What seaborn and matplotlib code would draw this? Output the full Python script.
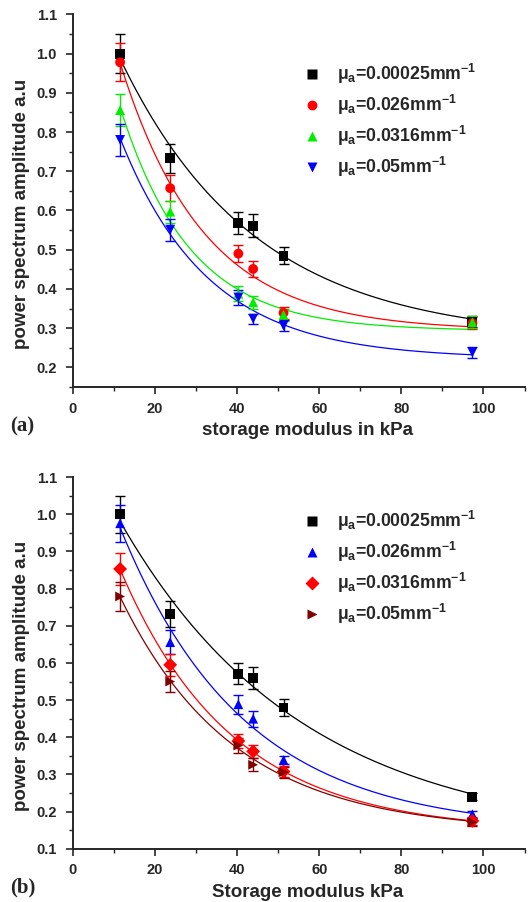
import numpy as np
import pandas as pd
import seaborn as sns
import matplotlib.pyplot as plt
from matplotlib.ticker import MultipleLocator

# storage modulus (kPa) of the six phantoms
modulus = [11.5, 23.7, 40.3, 43.9, 51.3, 97.3]

labels = [r'$\mu_a$=0.00025mm$^{-1}$', r'$\mu_a$=0.026mm$^{-1}$',
          r'$\mu_a$=0.0316mm$^{-1}$', r'$\mu_a$=0.05mm$^{-1}$']

# panel (a)
a_vals = [[1.0, 0.733, 0.569, 0.561, 0.485, 0.316],
          [0.978, 0.657, 0.49, 0.451, 0.339, 0.313],
          [0.856, 0.597, 0.388, 0.366, 0.334, 0.315],
          [0.78, 0.551, 0.378, 0.324, 0.306, 0.238]]
a_err = [[0.05, 0.037, 0.028, 0.029, 0.022, 0.014],
         [0.048, 0.033, 0.022, 0.02, 0.016, 0.015],
         [0.04, 0.028, 0.02, 0.016, 0.015, 0.015],
         [0.04, 0.028, 0.018, 0.013, 0.014, 0.013]]
a_colors = ['black', 'red', '#00ee00', 'blue']
a_markers = ['s', 'o', '^', 'v']

# panel (b)
b_vals = [[1.0, 0.732, 0.571, 0.56, 0.48, 0.24],
          [0.976, 0.656, 0.489, 0.45, 0.339, 0.193],
          [0.853, 0.595, 0.39, 0.362, 0.308, 0.175],
          [0.779, 0.55, 0.378, 0.326, 0.306, 0.172]]
b_err = [[0.05, 0.036, 0.028, 0.03, 0.024, 0.01],
         [0.05, 0.033, 0.025, 0.022, 0.012, 0.01],
         [0.042, 0.03, 0.02, 0.018, 0.015, 0.01],
         [0.04, 0.028, 0.02, 0.018, 0.015, 0.01]]
b_colors = ['black', 'blue', 'red', '#800000']
b_markers = ['s', '^', 'D', '>']

sns.set_style('ticks')
plt.rcParams['font.family'] = ['Liberation Sans', 'DejaVu Sans']
plt.rcParams['font.weight'] = 'bold'
plt.rcParams['mathtext.fontset'] = 'custom'
plt.rcParams['mathtext.rm'] = 'Liberation Sans:bold'
plt.rcParams['mathtext.it'] = 'Liberation Sans:bold'
plt.rcParams['mathtext.bf'] = 'Liberation Sans:bold'


def exp_fit(x, y):
  # y = y0 + A*exp(-x/t), grid over t, linear least squares for y0, A
  best = None
  for t in np.linspace(5, 120, 1151):
    M = np.column_stack([np.ones_like(x), np.exp(-x / t)])
    coef = np.linalg.lstsq(M, y, rcond=None)[0]
    sse = ((M @ coef - y) ** 2).sum()
    if best is None or sse < best[0]:
      best = (sse, coef[0], coef[1], t)
  return best[1:]


def panel(ax, vals, errs, colors, markers, xlabel, ylim, tag, leg_y):
  x = np.array(modulus)
  rows = []
  for lab, v in zip(labels, vals):
    for xi, yi in zip(modulus, v):
      rows.append({'modulus': xi, 'amp': yi, 'series': lab})
  df = pd.DataFrame(rows)

  for v, e, c in zip(vals, errs, colors):
    y0, A, t = exp_fit(x, np.array(v))
    xs = np.linspace(x.min(), x.max(), 200)
    ax.plot(xs, y0 + A * np.exp(-xs / t), color=c, lw=0.9, zorder=1)
    ax.errorbar(x, v, yerr=e, fmt='none', ecolor=c, elinewidth=1,
                capsize=3.3, capthick=1, zorder=2)

  sns.scatterplot(data=df, x='modulus', y='amp', hue='series', style='series',
                  palette=dict(zip(labels, colors)),
                  markers=dict(zip(labels, markers)),
                  s=50, edgecolor='none', zorder=3, ax=ax)

  ax.set_xlim(0, 110)
  ax.set_ylim(*ylim)
  ax.xaxis.set_major_locator(MultipleLocator(20))
  ax.xaxis.set_minor_locator(MultipleLocator(10))
  ax.yaxis.set_major_locator(MultipleLocator(0.1))
  ax.yaxis.set_minor_locator(MultipleLocator(0.05))
  ax.tick_params(which='major', length=5, width=1.2, labelsize=10.5)
  ax.tick_params(axis='y', which='major', pad=6.5)
  ax.tick_params(axis='x', which='major', pad=5.5)
  ax.tick_params(which='minor', length=3, width=1)
  ax.set_yticks(np.arange(round(ylim[0] + 0.049, 1), 1.101, 0.1))
  ax.yaxis.set_major_formatter(plt.FormatStrFormatter('%.1f'))
  sns.despine(ax=ax)
  for s in ['left', 'bottom']:
    ax.spines[s].set_linewidth(1.4)
  for lab in ax.get_xticklabels() + ax.get_yticklabels():
    lab.set_fontweight('bold')

  ax.set_xlabel(xlabel, fontsize=13.5, fontweight='bold')
  ax.xaxis.set_label_coords(0.52, -0.095)
  ax.set_ylabel('power spectrum amplitude a.u', fontsize=13.5, fontweight='bold')
  ax.yaxis.set_label_coords(-0.095, 0.465)

  h, l = ax.get_legend_handles_labels()
  ax.legend(h, l, loc='upper left', bbox_to_anchor=(0.455, leg_y), frameon=False,
            fontsize=12.7, labelspacing=0.38, handletextpad=0.45, markerscale=1.0)
  ax.text(-0.14, -0.105, tag, transform=ax.transAxes, fontsize=15,
          fontweight='bold', family='Liberation Serif', va='center')


fig = plt.figure(figsize=(5.32, 9.02), dpi=100)
ax1 = fig.add_axes([0.137, 0.571, 0.849, 0.413])
ax2 = fig.add_axes([0.137, 0.059, 0.849, 0.412])

panel(ax1, a_vals, a_err, a_colors, a_markers, 'storage modulus in kPa', (0.15, 1.1), '(a)', 0.914)
panel(ax2, b_vals, b_err, b_colors, b_markers, 'Storage modulus kPa', (0.1, 1.1), '(b)', 0.956)

fig.savefig('out.png', dpi=100)
